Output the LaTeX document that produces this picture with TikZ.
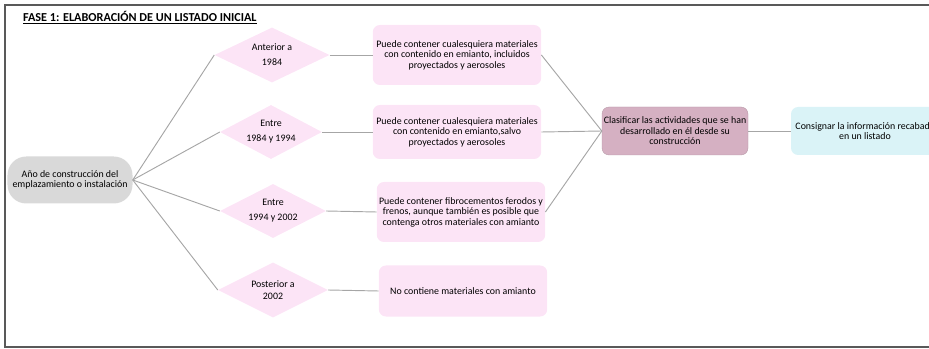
\documentclass[tikz,border=0pt]{standalone}
\usepackage{fontspec}
\setmainfont{Carlito}
\usetikzlibrary{shapes.geometric}
\definecolor{rootgray}{HTML}{D9D9D9}
\definecolor{pinkfill}{HTML}{FCE4F6}
\definecolor{mauvefill}{HTML}{D5B0C2}
\definecolor{cyanfill}{HTML}{DAF3F7}
\definecolor{linegray}{HTML}{A6A6A6}
\definecolor{framegray}{HTML}{595959}
\tikzset{
    rootbox/.style = {rectangle, rounded corners=16pt, fill=rootgray, align=center, inner sep=0pt, minimum width=3.75cm, minimum height=1.41cm},
    period/.style = {diamond, aspect=2, fill=pinkfill, align=center, inner sep=0pt},
    infobox/.style = {rectangle, rounded corners=6pt, fill=pinkfill, align=center, inner sep=0pt, minimum width=5.05cm},
    classbox/.style = {rectangle, rounded corners=6pt, fill=mauvefill, draw=mauvefill!85!black, line width=0.3pt, align=center, inner sep=0pt, minimum width=4.38cm, minimum height=1.44cm},
    listbox/.style = {rectangle, rounded corners=6pt, fill=cyanfill, align=center, inner sep=0pt, minimum width=4.44cm, minimum height=1.44cm},
    link/.style = {draw=linegray, line width=0.8pt},
    frameline/.style = {draw=framegray, line width=1pt},
    every node/.style = {font=\fontsize{8.45}{8.9}\selectfont}
}
\begin{document}
\begin{tikzpicture}[x=0.03cm, y=-0.03cm]
\useasboundingbox (0,0) rectangle (929,349);
\clip (0,0) rectangle (929,349);
%
\draw[frameline] (5,5) rectangle (980,347);
\node[anchor=west, font=\fontsize{10.4}{12}\selectfont\bfseries] at (19,18) (title) {\underline{FASE 1: ELABORACIÓN DE UN LISTADO INICIAL}};
%
\node[rootbox] at (70,180) (root) {Año de construcción del\\emplazamiento o instalación};
%
\node[period, minimum width=3.45cm, minimum height=1.65cm] at (272,55) (p1) {Anterior a\\[3.8pt]1984};
\node[period, minimum width=3.06cm, minimum height=1.62cm] at (271,132) (p2) {Entre\\[3.8pt]1984 y 1994};
\node[period, minimum width=3.18cm, minimum height=1.62cm] at (273,211) (p3) {Entre\\[3.8pt]1994 y 2002};
\node[period, minimum width=3.30cm, minimum height=1.65cm] at (273,290) (p4) {Posterior a\\[1.3pt]2002};
%
\node[infobox, minimum height=1.80cm] at (457,55) (b1) {Puede contener cualesquiera materiales\\con contenido en emianto, incluidos\\proyectados y aerosoles};
\node[infobox, minimum height=1.62cm] at (457,132) (b2) {Puede contener cualesquiera materiales\\con contenido en emianto,salvo\\proyectados y aerosoles};
\node[infobox, minimum height=1.80cm] at (461,212) (b3) {Puede contener fibrocementos ferodos y\\frenos, aunque también es posible que\\contenga otros materiales con amianto};
\node[infobox, minimum height=1.53cm] at (463,291) (b4) {No contiene materiales con amianto};
%
\node[classbox] at (675,131) (cls) {Clasificar las actividades que se han\\desarrollado en él desde su\\construcción};
\node[listbox] at (865,131) (lst) {Consignar la información recabada\\en un listado};
%
\foreach \i in {1,...,4} {
  \draw[link] (root.east) -- (p\i.west);
  \draw[link] (p\i.east) -- (b\i.west);
}
\foreach \i in {1,2,3} {
  \draw[link] (b\i.east) -- (cls.west);
}
\draw[link] (cls.east) -- (lst.west);

\end{tikzpicture}
\end{document}
